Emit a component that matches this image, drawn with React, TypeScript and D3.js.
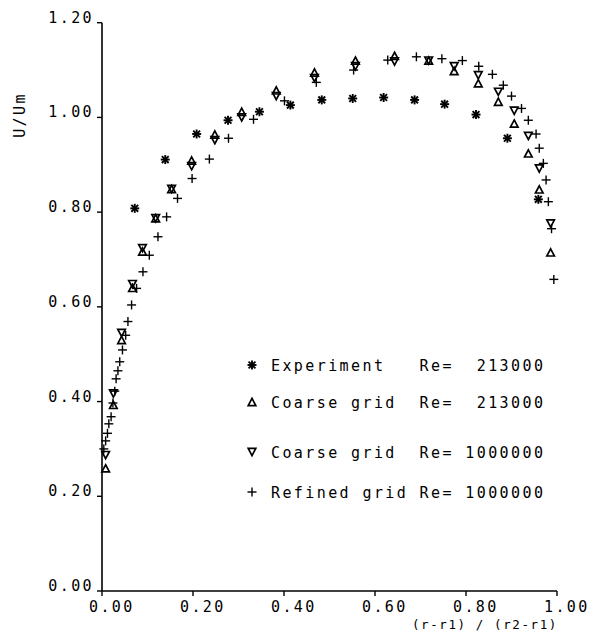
import React from "react";
import * as d3 from "d3";

// Experiment Re=213000 (asterisks)
const expX = [0.072, 0.139, 0.208, 0.277, 0.346, 0.414, 0.483, 0.551, 0.619, 0.687, 0.753, 0.822, 0.891, 0.959];
const expY = [0.808, 0.911, 0.965, 0.994, 1.012, 1.026, 1.037, 1.040, 1.042, 1.037, 1.028, 1.006, 0.956, 0.827];

// Coarse grid (both Re) share the same radial stations
const coarseX = [0.008, 0.025, 0.043, 0.067, 0.089, 0.118, 0.153, 0.197, 0.248, 0.307, 0.383, 0.467, 0.557, 0.643, 0.718, 0.774, 0.827, 0.871, 0.906, 0.937, 0.961, 0.986];
const coarse213Y = [0.259, 0.393, 0.530, 0.640, 0.717, 0.787, 0.849, 0.909, 0.964, 1.012, 1.057, 1.095, 1.120, 1.130, 1.120, 1.098, 1.072, 1.033, 0.987, 0.924, 0.848, 0.715];
const coarse1MY = [0.287, 0.417, 0.545, 0.648, 0.724, 0.787, 0.849, 0.897, 0.952, 1.000, 1.045, 1.083, 1.108, 1.118, 1.120, 1.108, 1.089, 1.054, 1.014, 0.961, 0.892, 0.776];

// Refined grid Re=1000000 (plus)
const refinedX = [0.004, 0.008, 0.012, 0.015, 0.020, 0.024, 0.028, 0.031, 0.035, 0.039, 0.045, 0.052, 0.057, 0.065, 0.076, 0.090, 0.104, 0.123, 0.142, 0.166, 0.198, 0.236, 0.278, 0.333, 0.401, 0.471, 0.553, 0.628, 0.691, 0.747, 0.792, 0.828, 0.858, 0.882, 0.900, 0.922, 0.937, 0.954, 0.961, 0.970, 0.976, 0.981, 0.988, 0.993];
const refinedY = [0.300, 0.317, 0.333, 0.353, 0.368, 0.397, 0.422, 0.448, 0.465, 0.484, 0.509, 0.540, 0.569, 0.604, 0.639, 0.674, 0.709, 0.748, 0.790, 0.829, 0.871, 0.912, 0.956, 0.996, 1.035, 1.074, 1.100, 1.121, 1.128, 1.124, 1.120, 1.108, 1.091, 1.068, 1.045, 1.019, 0.994, 0.965, 0.935, 0.903, 0.868, 0.822, 0.765, 0.658];

const xTicks = [0, 0.2, 0.4, 0.6, 0.8, 1.0];
const yTicks = [0, 0.2, 0.4, 0.6, 0.8, 1.0, 1.2];

const legendSymbols = ["asterisk", "up", "down", "plus"];
const legendLabels = [
  "Experiment   Re=  213000",
  "Coarse grid  Re=  213000",
  "Coarse grid  Re= 1000000",
  "Refined grid Re= 1000000",
];

const FONT = "'DejaVu Sans Mono', 'Liberation Mono', monospace";

function Marker({ kind, cx, cy }: { kind: string; cx: number; cy: number }) {
  const s = 4.5;
  if (kind === "asterisk") {
    const d = 3.4;
    return (
      <g stroke="#000" strokeWidth={1.9}>
        <line x1={cx - s} y1={cy} x2={cx + s} y2={cy} />
        <line x1={cx} y1={cy - s} x2={cx} y2={cy + s} />
        <line x1={cx - d} y1={cy - d} x2={cx + d} y2={cy + d} />
        <line x1={cx - d} y1={cy + d} x2={cx + d} y2={cy - d} />
      </g>
    );
  }
  if (kind === "plus") {
    const p = 4.5;
    return (
      <g stroke="#000" strokeWidth={1.4}>
        <line x1={cx - p} y1={cy} x2={cx + p} y2={cy} />
        <line x1={cx} y1={cy - p} x2={cx} y2={cy + p} />
      </g>
    );
  }
  const h = 3.6;
  const w = 3.8;
  const pts =
    kind === "up"
      ? `${cx},${cy - h} ${cx + w},${cy + h} ${cx - w},${cy + h}`
      : `${cx},${cy + h} ${cx + w},${cy - h} ${cx - w},${cy - h}`;
  return <polygon points={pts} fill="none" stroke="#000" strokeWidth={1.7} strokeLinejoin="miter" />;
}

export default function App() {
  const x = d3.scaleLinear().domain([0, 1]).range([102, 557]);
  const y = d3.scaleLinear().domain([0, 1.2]).range([591, 22.7]);

  const textStyle: React.CSSProperties = {
    fontFamily: FONT,
    fontSize: 15,
    letterSpacing: "2.4px",
    whiteSpace: "pre",
  };

  const legendY = [365, 402, 452, 492];

  return (
    <svg
      width={589}
      height={635}
      style={{ position: "absolute", left: 0, top: 0, background: "#fff" }}
    >
      <rect x={0} y={0} width={589} height={635} fill="#fff" />
      {/* axes */}
      <line x1={x(0)} y1={y(0)} x2={x(1)} y2={y(0)} stroke="#000" strokeWidth={1.6} />
      <line x1={x(0)} y1={y(0)} x2={x(0)} y2={y(1.2)} stroke="#000" strokeWidth={1.6} />
      {yTicks.map((t) => (
        <g key={"y" + t}>
          <line x1={x(0) - 5} y1={y(t)} x2={x(0)} y2={y(t)} stroke="#000" strokeWidth={1.4} />
          <text x={94} y={y(t)} textAnchor="end" style={textStyle} fill="#000">
            {t.toFixed(2)}
          </text>
        </g>
      ))}
      {xTicks.map((t) => (
        <g key={"x" + t}>
          <line x1={x(t)} y1={y(0)} x2={x(t)} y2={y(0) + 5} stroke="#000" strokeWidth={1.4} />
          <text x={x(t) - 13} y={612} style={textStyle} fill="#000">
            {t.toFixed(2)}
          </text>
        </g>
      ))}
      <text
        transform="translate(25,115) rotate(-90)"
        textAnchor="middle"
        style={textStyle}
        fill="#000"
      >
        U/Um
      </text>
      <text
        x={558}
        y={629}
        textAnchor="end"
        style={{ ...textStyle, fontSize: 12.5, letterSpacing: "1.6px" }}
        fill="#000"
      >
        (r-r1) / (r2-r1)
      </text>

      {/* data */}
      {expX.map((v, i) => (
        <Marker key={"e" + i} kind="asterisk" cx={x(v)} cy={y(expY[i])} />
      ))}
      {coarseX.map((v, i) => (
        <Marker key={"c2" + i} kind="up" cx={x(v)} cy={y(coarse213Y[i])} />
      ))}
      {coarseX.map((v, i) => (
        <Marker key={"c1" + i} kind="down" cx={x(v)} cy={y(coarse1MY[i])} />
      ))}
      {refinedX.map((v, i) => (
        <Marker key={"r" + i} kind="plus" cx={x(v)} cy={y(refinedY[i])} />
      ))}

      {/* legend */}
      {legendLabels.map((lab, i) => (
        <g key={"l" + i}>
          <Marker kind={legendSymbols[i]} cx={252} cy={legendY[i]} />
          <text x={271} y={legendY[i] + 6} style={textStyle} fill="#000">
            {lab}
          </text>
        </g>
      ))}
    </svg>
  );
}
